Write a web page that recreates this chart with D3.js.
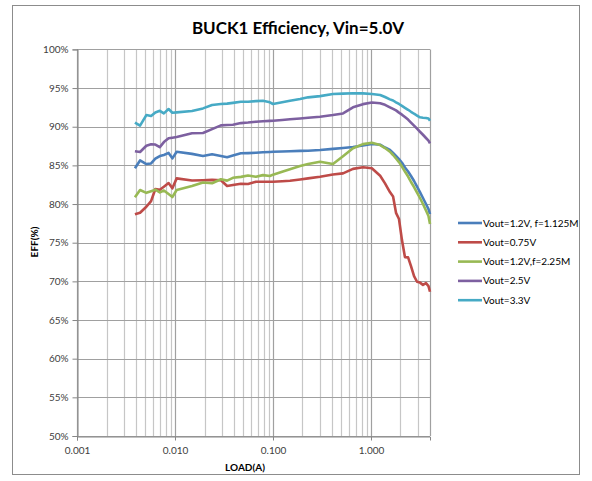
<!DOCTYPE html>
<html><head><meta charset="utf-8">
<script src="https://cdn.jsdelivr.net/npm/d3@7"></script>
<style>body{margin:0;background:#fff;} text{font-family:Lato,"Open Sans",sans-serif;}</style>
</head><body>
<svg id="chart" width="592" height="481"></svg>
<script>
const loads = [0.0039,0.0044,0.0051,0.0057,0.0063,0.0070,0.0077,0.0086,0.0094,0.0104,
  0.0149,0.0193,0.0239,0.0294,0.034,0.039,0.047,0.0556,0.067,0.079,0.093,0.10,0.124,0.149,0.189,0.228,
  0.302,0.409,0.518,0.655,0.828,1.02,1.24,1.39,1.56,1.68,1.80,1.93,2.07,2.22,2.39,2.56,2.75,2.95,3.16,3.39,3.64,3.86,4.0];
const eff_1v2_1125 = [84.62,85.64,85.17,85.25,85.86,86.21,86.34,86.61,85.91,86.77,
  86.49,86.22,86.43,86.22,86.05,86.29,86.56,86.59,86.64,86.69,86.74,86.77,86.80,86.83,86.87,86.90,
  86.99,87.13,87.25,87.38,87.57,87.76,87.67,87.31,86.99,86.60,86.22,85.82,85.34,84.72,84.20,83.62,82.98,82.26,81.55,80.78,80.00,79.35,78.71];
const eff_0v75 = [78.68,78.87,79.65,80.38,81.94,81.84,82.24,82.72,82.03,83.32,
  83.04,83.07,83.12,83.07,82.33,82.46,82.63,82.59,82.88,82.88,82.88,82.88,82.95,83.01,83.18,83.32,
  83.53,83.83,83.97,84.55,84.75,84.62,83.65,82.67,81.55,80.98,78.86,78.06,75.34,73.14,73.10,71.97,70.68,69.95,69.84,69.55,69.78,69.39,68.66];
const eff_1v2_225 = [80.87,81.81,81.45,81.66,81.86,81.50,81.75,81.29,80.91,81.81,
  82.33,82.79,82.69,83.20,83.03,83.39,83.51,83.69,83.52,83.74,83.62,83.80,84.18,84.49,84.92,85.17,
  85.47,85.17,86.18,87.21,87.75,87.93,87.63,87.24,86.77,86.34,85.89,85.43,84.85,84.20,83.56,82.85,82.20,81.49,80.78,80.00,79.16,78.45,77.41];
const eff_2v5 = [86.83,86.73,87.54,87.74,87.70,87.36,88.01,88.50,88.58,88.67,
  89.15,89.18,89.69,90.18,90.22,90.26,90.47,90.54,90.65,90.70,90.75,90.78,90.87,90.96,91.07,91.16,
  91.29,91.51,91.72,92.51,92.92,93.13,93.04,92.83,92.51,92.31,92.11,91.82,91.56,91.25,90.92,90.53,90.14,89.75,89.35,88.96,88.54,88.20,87.85];
const eff_3v3 = [90.52,90.13,91.51,91.38,91.84,92.06,91.72,92.29,91.81,91.86,
  92.03,92.37,92.81,92.93,92.99,93.08,93.22,93.23,93.31,93.35,93.16,92.94,93.16,93.36,93.58,93.80,
  93.96,94.23,94.28,94.32,94.31,94.23,94.10,93.84,93.54,93.39,93.16,92.94,92.69,92.45,92.19,91.93,91.68,91.45,91.22,91.17,91.13,91.06,90.78];
const seriesNames = ["Vout=1.2V, f=1.125M","Vout=0.75V","Vout=1.2V,f=2.25M","Vout=2.5V","Vout=3.3V"];
const seriesColors = ["#4a7ebb","#be4b48","#98b954","#7d60a0","#46aac5"];
const seriesValues = [eff_1v2_1125, eff_0v75, eff_1v2_225, eff_2v5, eff_3v3];
const xTicks = [0.001,0.01,0.1,1];
const yTicks = [50,55,60,65,70,75,80,85,90,95,100];

const svg = d3.select("#chart");
const L = 77, R = 430, T = 49.4, B = 436;
const x = d3.scaleLog().domain([0.001,4]).range([L,R]);
const y = d3.scaleLinear().domain([50,100]).range([B,T]);

// outer border
svg.append("rect").attr("x",12.5).attr("y",5.5).attr("width",567).attr("height",469)
  .attr("fill","none").attr("stroke","#8c8c8c").attr("stroke-width",1);

// minor vertical grid
const minor = [];
for (let e=-3;e<=0;e++) for (let k=2;k<=9;k++){ const v=k*Math.pow(10,e); if (v<4) minor.push(v); }
svg.append("g").selectAll("line").data(minor).join("line")
  .attr("x1",d=>Math.round(x(d))+0.5).attr("x2",d=>Math.round(x(d))+0.5).attr("y1",T).attr("y2",B)
  .attr("stroke","#c6c6c6").attr("stroke-width",1.2);
// major vertical
svg.append("g").selectAll("line").data(xTicks.concat([4])).join("line")
  .attr("x1",d=>Math.round(x(d))+0.5).attr("x2",d=>Math.round(x(d))+0.5).attr("y1",T).attr("y2",B)
  .attr("stroke","#a0a0a0").attr("stroke-width",1.2);
// horizontal grid
svg.append("g").selectAll("line").data(yTicks).join("line")
  .attr("x1",L).attr("x2",R).attr("y1",d=>Math.round(y(d))+0.5).attr("y2",d=>Math.round(y(d))+0.5)
  .attr("stroke","#a0a0a0").attr("stroke-width",1.2);

// axes
const yAxis = d3.axisLeft(y).tickValues(yTicks).tickFormat(d=>d+"%").tickSize(5).tickPadding(4);
const gy = svg.append("g").attr("transform",`translate(${L+0.5},0)`).call(yAxis);
gy.select(".domain").attr("stroke","#868686");
gy.selectAll(".tick line").attr("stroke","#868686");
gy.selectAll("text").attr("font-size",10).attr("fill","#404040").style("font-family","Lato, sans-serif");

const xAxis = d3.axisBottom(x).tickValues(xTicks).tickFormat(d3.format(".3f")).tickSize(4).tickPadding(6);
const gx = svg.append("g").attr("transform",`translate(0,${B+0.5})`).call(xAxis);
gx.select(".domain").attr("stroke","#868686");
gx.selectAll(".tick line").attr("stroke","#868686");
gx.selectAll("text").attr("font-size",10).attr("fill","#404040").style("font-family","Lato, sans-serif");

// lines
const line = d3.line().x((d,i)=>x(loads[i])).y(d=>y(d)).curve(d3.curveLinear);
seriesValues.forEach((vals,si)=>{
  svg.append("path").datum(vals).attr("d",line).attr("fill","none")
    .attr("stroke",seriesColors[si]).attr("stroke-width",2.6).attr("stroke-linejoin","round");
});

// title
svg.append("text").attr("x",298).attr("y",34).attr("text-anchor","middle")
  .attr("font-size",17).attr("font-weight","bold").attr("fill","#000").text("BUCK1 Efficiency, Vin=5.0V");
// axis titles
svg.append("text").attr("transform","translate(38,242) rotate(-90)").attr("text-anchor","middle")
  .attr("font-size",10).attr("font-weight","bold").attr("fill","#000").text("EFF(%)");
svg.append("text").attr("x",245).attr("y",471).attr("text-anchor","middle")
  .attr("font-size",10).attr("font-weight","bold").attr("fill","#000").text("LOAD(A)");

// legend
const lg = svg.append("g").attr("transform","translate(458,223)");
seriesNames.forEach((n,i)=>{
  const g = lg.append("g").attr("transform",`translate(0,${i*19.3})`);
  g.append("line").attr("x1",0).attr("x2",24).attr("y1",0).attr("y2",0)
    .attr("stroke",seriesColors[i]).attr("stroke-width",2.6);
  g.append("text").attr("x",25).attr("y",3.5).attr("font-size",10).attr("fill","#000").text(n);
});
</script>
</body></html>
